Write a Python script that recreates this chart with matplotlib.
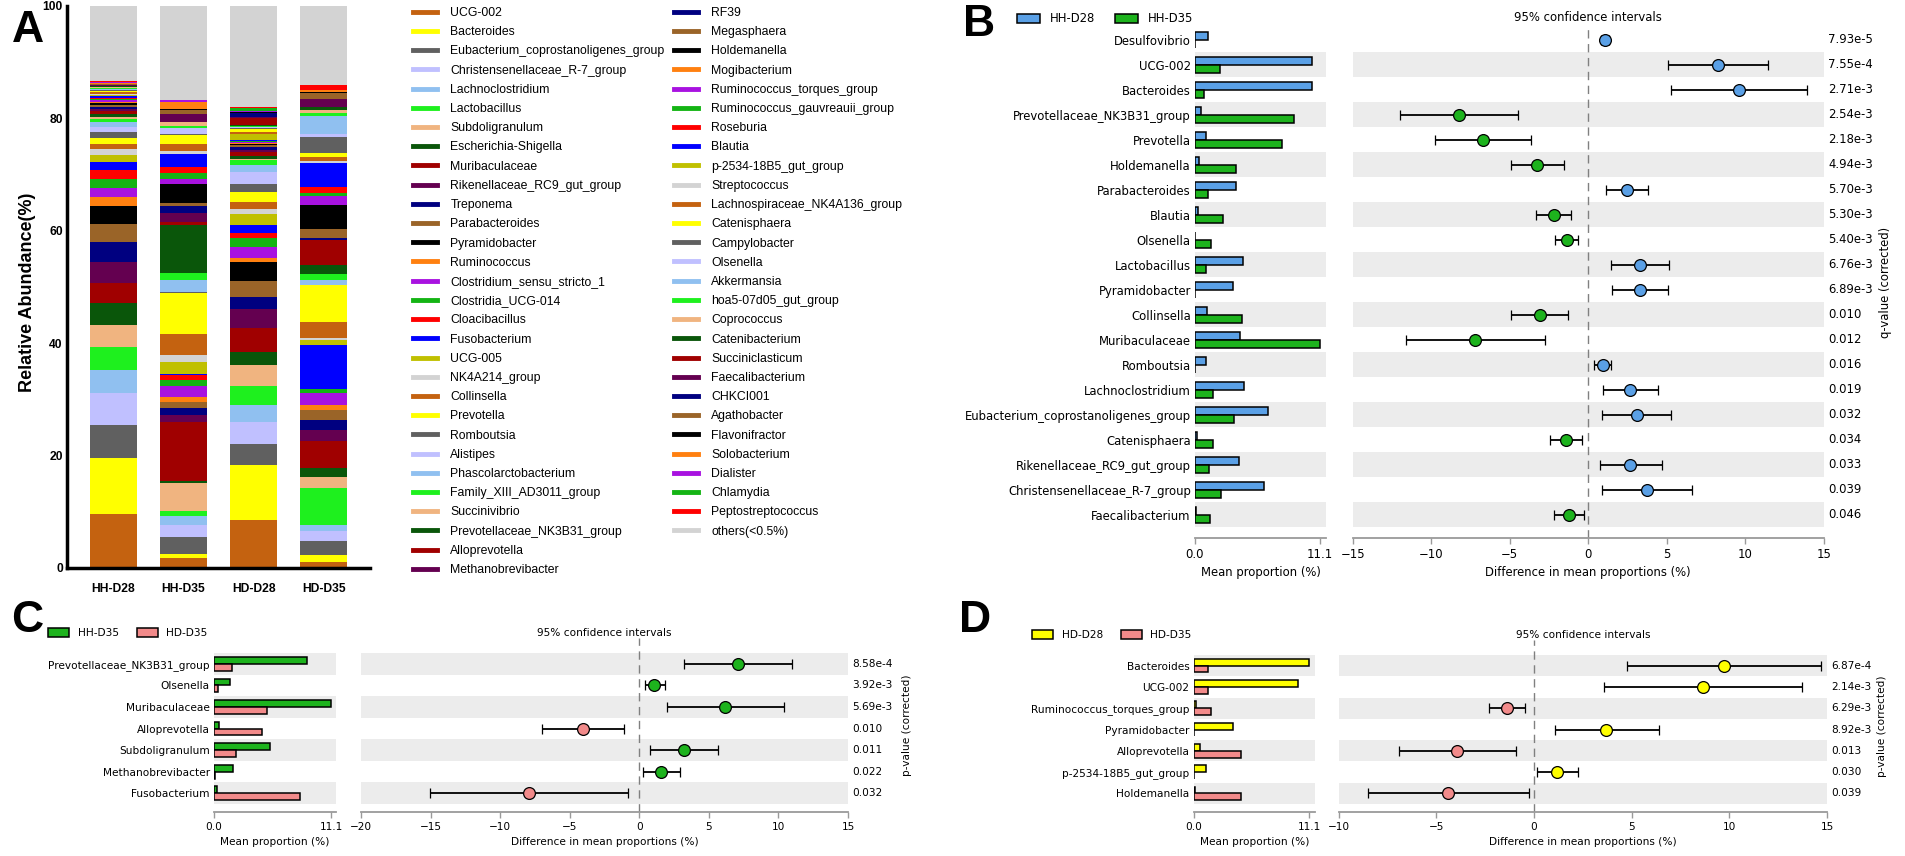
import matplotlib
matplotlib.use('Agg')
import matplotlib.pyplot as plt
from matplotlib.lines import Line2D
from matplotlib.patches import Patch
from matplotlib.transforms import blended_transform_factory
import numpy as np

# ---------------- Panel A data (relative abundance, %) ----------------
samples = ['HH-D28', 'HH-D35', 'HD-D28', 'HD-D35']

taxa = ['UCG-002', 'Bacteroides', 'Eubacterium_coprostanoligenes_group',
        'Christensenellaceae_R-7_group', 'Lachnoclostridium', 'Lactobacillus',
        'Subdoligranulum', 'Escherichia-Shigella', 'Muribaculaceae',
        'Rikenellaceae_RC9_gut_group', 'Treponema', 'Parabacteroides',
        'Pyramidobacter', 'Ruminococcus', 'Clostridium_sensu_stricto_1',
        'Clostridia_UCG-014', 'Cloacibacillus', 'Fusobacterium', 'UCG-005',
        'NK4A214_group', 'Collinsella', 'Prevotella', 'Romboutsia', 'Alistipes',
        'Phascolarctobacterium', 'Family_XIII_AD3011_group', 'Succinivibrio',
        'Prevotellaceae_NK3B31_group', 'Alloprevotella', 'Methanobrevibacter',
        'RF39', 'Megasphaera', 'Holdemanella', 'Mogibacterium',
        'Ruminococcus_torques_group', 'Ruminococcus_gauvreauii_group', 'Roseburia',
        'Blautia', 'p-2534-18B5_gut_group', 'Streptococcus',
        'Lachnospiraceae_NK4A136_group', 'Catenisphaera', 'Campylobacter',
        'Olsenella', 'Akkermansia', 'hoa5-07d05_gut_group', 'Coprococcus',
        'Catenibacterium', 'Succiniclasticum', 'Faecalibacterium', 'CHKCI001',
        'Agathobacter', 'Flavonifractor', 'Solobacterium', 'Dialister',
        'Chlamydia', 'Peptostreptococcus', 'others(<0.5%)']

hh_d28 = [9.6, 9.9, 6.0, 5.7, 4.0, 4.1, 3.9, 3.9, 3.7, 3.7, 3.5, 3.2, 3.2, 1.7,
          1.6, 1.6, 1.55, 1.4, 1.2, 1.1, 0.95, 1.1, 0.9, 0.9, 0.9, 0.6, 0.3, 0.6,
          0.6, 0.3, 0.4, 0.3, 0.3, 0.2, 0.3, 0.2, 0.3, 0.2, 0.3, 0.2, 0.3, 0.1,
          0.2, 0.05, 0.2, 0.1, 0.2, 0.2, 0.1, 0.05, 0.1, 0.1, 0.1, 0.1, 0.1, 0.1,
          0.1, 13.4]
hh_d35 = [1.7, 0.8, 3.1, 2.1, 1.5, 1.0, 4.9, 0.35, 10.5, 1.2, 1.3, 1.0, 0.02,
          0.95, 2.0, 1.1, 0.8, 0.2, 2.1, 1.2, 3.9, 7.3, 0.02, 0.02, 2.1, 1.3,
          0.02, 8.5, 0.5, 1.65, 1.3, 0.45, 3.4, 0.02, 0.9, 1.1, 1.0, 2.4, 0.02,
          0.4, 1.4, 1.6, 0.02, 1.2, 0.02, 0.3, 0.7, 0.02, 0.02, 1.4, 0.02, 0.6,
          0.25, 1.3, 0.35, 0.02, 0.02, 16.6]
hd_d28 = [8.5, 9.9, 3.7, 3.8, 3.1, 3.4, 3.7, 2.4, 4.15, 3.45, 2.2, 2.7, 3.4, 0.8,
          1.95, 1.6, 0.9, 1.4, 2.0, 0.9, 1.1, 1.85, 1.4, 2.1, 1.35, 0.9, 0.1,
          0.6, 0.6, 0.5, 0.5, 0.3, 0.2, 0.1, 0.25, 0.1, 0.1, 0.1, 1.1, 0.1, 0.2,
          0.7, 0.1, 0.1, 0.1, 0.1, 0.1, 0.1, 1.3, 0.1, 0.7, 0.1, 0.1, 0.1, 0.1,
          0.6, 0.1, 18.0]
hd_d35 = [1.1, 1.2, 2.55, 1.8, 1.0, 6.5, 2.0, 1.6, 4.8, 2.05, 1.75, 1.8, 0.02,
          0.8, 2.1, 0.7, 0.02, 7.9, 0.9, 0.4, 2.7, 6.7, 0.02, 0.02, 0.9, 1.05,
          0.02, 1.5, 4.45, 0.02, 0.4, 1.5, 4.3, 0.02, 1.65, 0.5, 1.05, 4.25,
          0.02, 0.3, 0.8, 0.6, 3.0, 0.4, 3.25, 0.6, 0.4, 0.65, 0.02, 1.3, 0.02,
          1.2, 0.02, 0.4, 0.02, 0.02, 0.95, 14.0]

palette = ['#c46210', '#ffff00', '#606060', '#c0c0ff', '#90c0f0', '#1ef01e',
           '#f0b480', '#0a560a', '#a00000', '#640050', '#000080', '#9a6428',
           '#000000', '#ff8010', '#a812e0', '#14b414', '#ff0000', '#0000ff',
           '#c0c000', '#d3d3d3']
colors = [palette[i % 20] for i in range(len(taxa) - 1)] + ['#d3d3d3']

# ---------------- Panel B data (HH-D28 vs HH-D35) ----------------
b_names = ['Desulfovibrio', 'UCG-002', 'Bacteroides', 'Prevotellaceae_NK3B31_group',
           'Prevotella', 'Holdemanella', 'Parabacteroides', 'Blautia', 'Olsenella',
           'Lactobacillus', 'Pyramidobacter', 'Collinsella', 'Muribaculaceae',
           'Romboutsia', 'Lachnoclostridium', 'Eubacterium_coprostanoligenes_group',
           'Catenisphaera', 'Rikenellaceae_RC9_gut_group',
           'Christensenellaceae_R-7_group', 'Faecalibacterium']
b_mean1 = [1.14, 10.4, 10.4, 0.55, 1.0, 0.37, 3.65, 0.27, 0.03, 4.3, 3.4, 1.1,
           3.97, 1.0, 4.34, 6.5, 0.2, 3.9, 6.1, 0.05]
b_mean2 = [0.02, 2.2, 0.8, 8.8, 7.7, 3.65, 1.14, 2.5, 1.46, 0.96, 0.02, 4.2,
           11.1, 0.02, 1.64, 3.5, 1.6, 1.23, 2.3, 1.3]
b_diff = [1.05, 8.27, 9.58, -8.24, -6.7, -3.27, 2.45, -2.19, -1.37, 3.3, 3.3,
          -3.1, -7.22, 0.95, 2.68, 3.07, -1.4, 2.68, 3.76, -1.24]
b_lo = [0.8, 5.07, 5.26, -12.0, -9.74, -4.93, 1.14, -3.33, -2.09, 1.47, 1.5,
        -4.9, -11.63, 0.36, 0.92, 0.88, -2.42, 0.72, 0.88, -2.16]
b_hi = [1.3, 11.44, 13.92, -4.5, -3.63, -1.57, 3.82, -1.08, -0.65, 5.13, 5.1,
        -1.27, -2.78, 1.47, 4.41, 5.26, -0.39, 4.67, 6.63, -0.26]
b_q = ['7.93e-5', '7.55e-4', '2.71e-3', '2.54e-3', '2.18e-3', '4.94e-3', '5.70e-3',
       '5.30e-3', '5.40e-3', '6.76e-3', '6.89e-3', '0.010', '0.012', '0.016',
       '0.019', '0.032', '0.034', '0.033', '0.039', '0.046']

# ---------------- Panel C data (HH-D35 vs HD-D35) ----------------
c_names = ['Prevotellaceae_NK3B31_group', 'Olsenella', 'Muribaculaceae',
           'Alloprevotella', 'Subdoligranulum', 'Methanobrevibacter', 'Fusobacterium']
c_mean1 = [8.8, 1.5, 11.1, 0.52, 5.29, 1.78, 0.29]
c_mean2 = [1.72, 0.34, 5.0, 4.54, 2.07, 0.1, 8.16]
c_diff = [7.06, 1.09, 6.15, -4.05, 3.18, 1.57, -7.93]
c_lo = [3.18, 0.39, 1.96, -7.02, 0.78, 0.26, -15.04]
c_hi = [10.99, 1.87, 10.42, -1.09, 5.67, 2.92, -0.78]
c_p = ['8.58e-4', '3.92e-3', '5.69e-3', '0.010', '0.011', '0.022', '0.032']

# ---------------- Panel D data (HD-D28 vs HD-D35) ----------------
d_names = ['Bacteroides', 'UCG-002', 'Ruminococcus_torques_group', 'Pyramidobacter',
           'Alloprevotella', 'p-2534-18B5_gut_group', 'Holdemanella']
d_mean1 = [11.1, 10.06, 0.23, 3.74, 0.58, 1.23, 0.18]
d_mean2 = [1.4, 1.4, 1.64, 0.02, 4.56, 0.02, 4.56]
d_diff = [9.73, 8.67, -1.40, 3.71, -3.93, 1.18, -4.4]
d_lo = [4.77, 3.58, -2.28, 1.09, -6.92, 0.16, -8.51]
d_hi = [14.71, 13.72, -0.47, 6.39, -0.9, 2.28, -0.25]
d_p = ['6.87e-4', '2.14e-3', '6.29e-3', '8.92e-3', '0.013', '0.030', '0.039']

BLUE = '#5aa0e6'
GREEN = '#1db31d'
PINK = '#f28a8a'
YELLOW = '#ffff00'

W, H = 1905, 856
fig = plt.figure(figsize=(W / 100, H / 100), dpi=100)


def box(l, t, r, b):
    # pixel box (left, top, right, bottom) -> figure fraction
    return [l / W, 1 - b / H, (r - l) / W, (b - t) / H]


ARIAL = 'Liberation Sans'

# ---------------- Panel A ----------------
axA = fig.add_axes(box(67, 6, 370, 568))
ab = np.array([hh_d28, hh_d35, hd_d28, hd_d35])
bottom = np.zeros(len(samples))
for j in range(len(taxa)):
    axA.bar(np.arange(len(samples)), ab[:, j], 0.67, bottom=bottom,
            color=colors[j], linewidth=0)
    bottom += ab[:, j]
axA.set_xlim(-0.664, 3.66)
axA.set_ylim(0, 100)
axA.spines['top'].set_visible(False)
axA.spines['right'].set_visible(False)
axA.spines['left'].set_linewidth(2.5)
axA.spines['bottom'].set_linewidth(2.5)
axA.set_yticks([0, 20, 40, 60, 80, 100])
axA.set_xticks(np.arange(len(samples)))
axA.set_xticklabels(samples)
axA.tick_params(axis='y', length=0, pad=3)
axA.tick_params(axis='x', length=0, pad=11)
for t in axA.get_xticklabels() + axA.get_yticklabels():
    t.set_fontfamily(ARIAL)
    t.set_fontweight('bold')
    t.set_fontsize(8.7)
fig.text(27.5 / W, 1 - 292 / H, 'Relative Abundance(%)', rotation=90, ha='center',
         va='center', fontsize=13, fontweight='bold', family=ARIAL)

handles = [Line2D([], [], color=c, lw=3.5) for c in colors]
lkw = dict(loc='upper left', frameon=False, handlelength=2.0, handletextpad=1.05,
           labelspacing=0.59, borderpad=0, borderaxespad=0,
           prop={'family': ARIAL, 'size': 8.8})
leg1 = fig.legend(handles[:30], taxa[:30], bbox_to_anchor=(413 / W, 1 - 7 / H), **lkw)
leg2 = fig.legend(handles[30:], taxa[30:], bbox_to_anchor=(674 / W, 1 - 7 / H), **lkw)

# panel letters
for letter, (px, py) in zip('ABCD', [(28, 31), (979, 24), (27, 621), (975, 621)]):
    fig.text(px / W, 1 - py / H, letter, ha='center', va='center', fontsize=32,
             fontweight='bold', family=ARIAL)


# ---------------- STAMP-like panels ----------------
def stamp(bar_px, ci_px, names, m1, m2, diff, lo, hi, qv, c1, c2, n1, n2,
          ci_lim, ci_ticks, qlabel, fs, pad_top, pad_bot, bar_max, leg_px, qlab_x,
          title_pad):
    n = len(names)
    y = np.arange(n)
    axb = fig.add_axes(box(*bar_px))
    axc = fig.add_axes(box(*ci_px))
    for ax in (axb, axc):
        ax.set_ylim(n - 0.5 + pad_bot, -0.5 - pad_top)
        for i in range(n):
            if (n - 1 - i) % 2 == 0:
                ax.axhspan(i - 0.5, i + 0.5, color='#ececec', lw=0, zorder=0)
        for s in ('top', 'right', 'left'):
            ax.spines[s].set_visible(False)
        ax.spines['bottom'].set_color('#9a9a9a')
        ax.spines['bottom'].set_linewidth(1.3)
        ax.tick_params(axis='x', colors='#9a9a9a', labelcolor='black',
                       labelsize=fs, length=4, width=1, pad=3)
    # mean proportion bars
    axb.barh(y - 0.32, m1, 0.32, align='edge', color=c1, edgecolor='black', lw=1.1,
             zorder=2)
    axb.barh(y, m2, 0.32, align='edge', color=c2, edgecolor='black', lw=1.1,
             zorder=2)
    axb.set_xlim(0, bar_max)
    axb.set_xticks([0, 11.1])
    axb.set_xticklabels(['0.0', '11.1'])
    axb.set_yticks(y)
    axb.set_yticklabels(names, fontsize=fs)
    axb.tick_params(axis='y', length=0, pad=3)
    axb.set_xlabel('Mean proportion (%)', fontsize=fs, labelpad=4)
    # confidence intervals
    axc.axvline(0, color='#808080', ls=(0, (6, 4)), lw=1, zorder=1)
    for i in range(n):
        col = c1 if diff[i] > 0 else c2
        axc.errorbar(diff[i], i, xerr=[[diff[i] - lo[i]], [hi[i] - diff[i]]],
                     fmt='o', color='black', ecolor='black', elinewidth=1.3,
                     capsize=3.5, capthick=1.3, markersize=8.5,
                     markerfacecolor=col, markeredgecolor='black',
                     markeredgewidth=0.9, zorder=3)
    axc.set_xlim(*ci_lim)
    axc.set_xticks(ci_ticks)
    axc.set_yticks([])
    axc.set_title('95% confidence intervals', fontsize=fs, pad=title_pad)
    axc.set_xlabel('Difference in mean proportions (%)', fontsize=fs, labelpad=4)
    trans = blended_transform_factory(axc.transAxes, axc.transData)
    for i in range(n):
        axc.text(1.009, i, qv[i], transform=trans, ha='left', va='center',
                 fontsize=fs)
    ymid = (ci_px[1] + ci_px[3]) / 2
    fig.text(qlab_x / W, 1 - ymid / H, qlabel, rotation=90, ha='center',
             va='center', fontsize=fs)
    hl = [Patch(facecolor=c1, edgecolor='black', lw=1.1),
          Patch(facecolor=c2, edgecolor='black', lw=1.1)]
    fig.legend(hl, [n1, n2], loc='center left', ncol=2, frameon=False,
               bbox_to_anchor=(leg_px[0] / W, 1 - leg_px[1] / H), fontsize=fs,
               handlelength=2.0, handleheight=0.9, handletextpad=0.8,
               columnspacing=1.7, borderpad=0, borderaxespad=0)


stamp((1195, 27, 1326, 538), (1352.6, 27, 1824, 538), b_names, b_mean1, b_mean2,
      b_diff, b_lo, b_hi, b_q, BLUE, GREEN, 'HH-D28', 'HH-D35', (-15, 15),
      [-15, -10, -5, 0, 5, 10, 15], 'q-value (corrected)', 8.4, 0.0, 0.42,
      11.63, (1017, 19), 1885, 4)

stamp((214, 638, 336, 812), (361, 638, 848, 812), c_names, c_mean1, c_mean2,
      c_diff, c_lo, c_hi, c_p, GREEN, PINK, 'HH-D35', 'HD-D35', (-20, 15),
      [-20, -15, -10, -5, 0, 5, 10, 15], 'p-value (corrected)', 7.6, 0.7, 0.37,
      11.57, (48, 633), 907, 1)

stamp((1193.6, 640, 1315.4, 812), (1338.5, 640, 1827, 812), d_names, d_mean1,
      d_mean2, d_diff, d_lo, d_hi, d_p, YELLOW, PINK, 'HD-D28', 'HD-D35',
      (-10, 15), [-10, -5, 0, 5, 10, 15], 'p-value (corrected)', 7.6, 0.7, 0.37,
      11.69, (1032, 635), 1882, 1)

fig.savefig('out.png', dpi=100)
plt.close(fig)
